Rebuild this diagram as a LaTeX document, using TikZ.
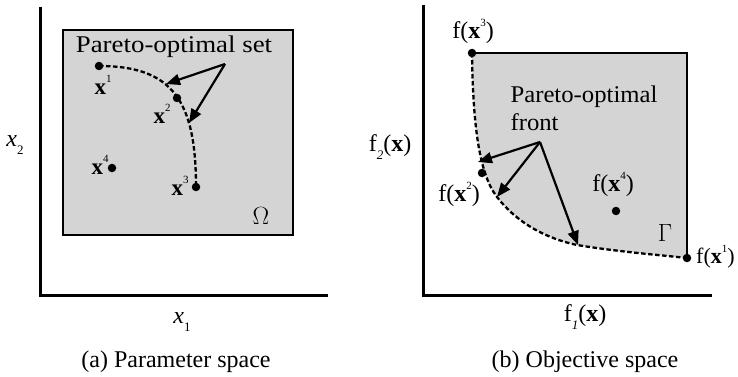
\documentclass[tikz,border=0pt]{standalone}
\usepackage{fontspec}
\setmainfont{Liberation Serif}
\usetikzlibrary{arrows.meta}
\definecolor{regfill}{RGB}{212,212,212}
\newcommand{\ptx}[1]{\textbf{x}\raisebox{0.5em}{\fontsize{11}{11}\selectfont #1}}
\newcommand{\fx}[1]{f(\textbf{x}\raisebox{0.5em}{\fontsize{11}{11}\selectfont #1})}
\begin{document}
\begin{tikzpicture}[x=1pt,y=-1pt,
  lbl/.style={inner sep=0pt,font=\fontsize{24}{28}\selectfont},
  axisline/.style={line width=3pt},
  regionline/.style={line width=2.8pt},
  front/.style={line width=2.3pt,dash pattern=on 4.5pt off 2.5pt},
  pointer/.style={line width=2.2pt,-{Triangle[length=14pt,width=11pt]}},
  dot/.style={circle,fill=black,inner sep=0pt,minimum size=8.5pt}]
\useasboundingbox (0,0) rectangle (738,377);
% ---------- left panel ----------
\coordinate (aO) at (40,7);
\coordinate (aC) at (40,295);
\coordinate (aE) at (328,295);
\draw[axisline] (aO) -- (aC) -- (aE);
\draw[regionline,fill=regfill] (63,30) rectangle (293,235);
\node[dot] (p1) at (99,66) {};
\node[dot] (p2) at (177,98) {};
\node[dot] (p3) at (196,187) {};
\node[dot] (p4) at (112,168) {};
\draw[front] (p1.center) .. controls (172,66) and (196,100) .. (p3.center);
\node[lbl,xscale=1.12] (setl) at (174,47) {Pareto-optimal set};
\coordinate (sO) at (225,64);
\coordinate (sT1) at (166,84);
\coordinate (sT2) at (189,123);
\draw[pointer] (sO) -- (sT1);
\draw[pointer] (sO) -- (sT2);
\node[lbl,font=\fontsize{23}{26}\selectfont] (l1) at (103,85) {\ptx{1}};
\node[lbl,font=\fontsize{23}{26}\selectfont] (l2) at (162,114) {\ptx{2}};
\node[lbl,font=\fontsize{23}{26}\selectfont] (l3) at (180,186) {\ptx{3}};
\node[lbl,font=\fontsize{23}{26}\selectfont] (l4) at (100,165) {\ptx{4}};
\node[lbl] (omega) at (261,216) {$\Omega$};
\node[lbl] (ax2) at (15,145) {\textit{x}\raisebox{-0.3em}{\fontsize{13}{13}\selectfont 2}};
\node[lbl] (ax1) at (182,322) {\textit{x}\raisebox{-0.3em}{\fontsize{13}{13}\selectfont 1}};
\node[lbl] (capa) at (176,362) {(a) Parameter space};
% ---------- right panel ----------
\coordinate (bO) at (423,5);
\coordinate (bC) at (423,295);
\coordinate (bE) at (712,295);
\draw[axisline] (bO) -- (bC) -- (bE);
\coordinate (q3) at (472,53);
\coordinate (q1) at (687,258);
\coordinate (c2) at (497,197);
\coordinate (c3) at (577,245);
\fill[regfill] (q3) -- (687,53) -- (q1)
  .. controls (660,255) and (620,252) .. (c3)
  .. controls (540,237) and (514,219) .. (c2)
  .. controls (480,175) and (473,130) .. (q3);
\draw[regionline] (q3) -- (687,53) -- (q1);
\draw[front] (q3) .. controls (473,130) and (480,175) .. (c2)
  .. controls (514,219) and (540,237) .. (c3)
  .. controls (620,252) and (660,255) .. (q1);
\node[dot] (d3) at (q3) {};
\node[dot] (d1) at (q1) {};
\node[dot] (d2) at (482,173) {};
\node[dot] (d4) at (616,211) {};
\node[lbl,align=left,xscale=1.03] (frontl) at (584,108) {Pareto-optimal\\front};
\coordinate (fO) at (540,142);
\coordinate (fT1) at (478,162);
\coordinate (fT2) at (497,197);
\coordinate (fT3) at (578,245);
\draw[pointer] (fO) -- (fT1);
\draw[pointer] (fO) -- (fT2);
\draw[pointer] (fO) -- (fT3);
\node[lbl] (m3) at (473,31) {\fx{3}};
\node[lbl] (m2) at (459,194) {\fx{2}};
\node[lbl] (m4) at (613,184) {\fx{4}};
\node[lbl,anchor=west,font=\fontsize{22}{26}\selectfont] (m1) at (696,257) {\fx{1}};
\node[lbl] (gam) at (665,233) {$\Gamma$};
\node[lbl] (f2) at (390,147) {f\raisebox{-0.3em}{\fontsize{13}{13}\selectfont\textit{2}}(\textbf{x})};
\node[lbl] (f1) at (585,317) {f\raisebox{-0.3em}{\fontsize{13}{13}\selectfont\textit{1}}(\textbf{x})};
\node[lbl] (capb) at (585,362) {(b) Objective space};
\end{tikzpicture}
\end{document}
